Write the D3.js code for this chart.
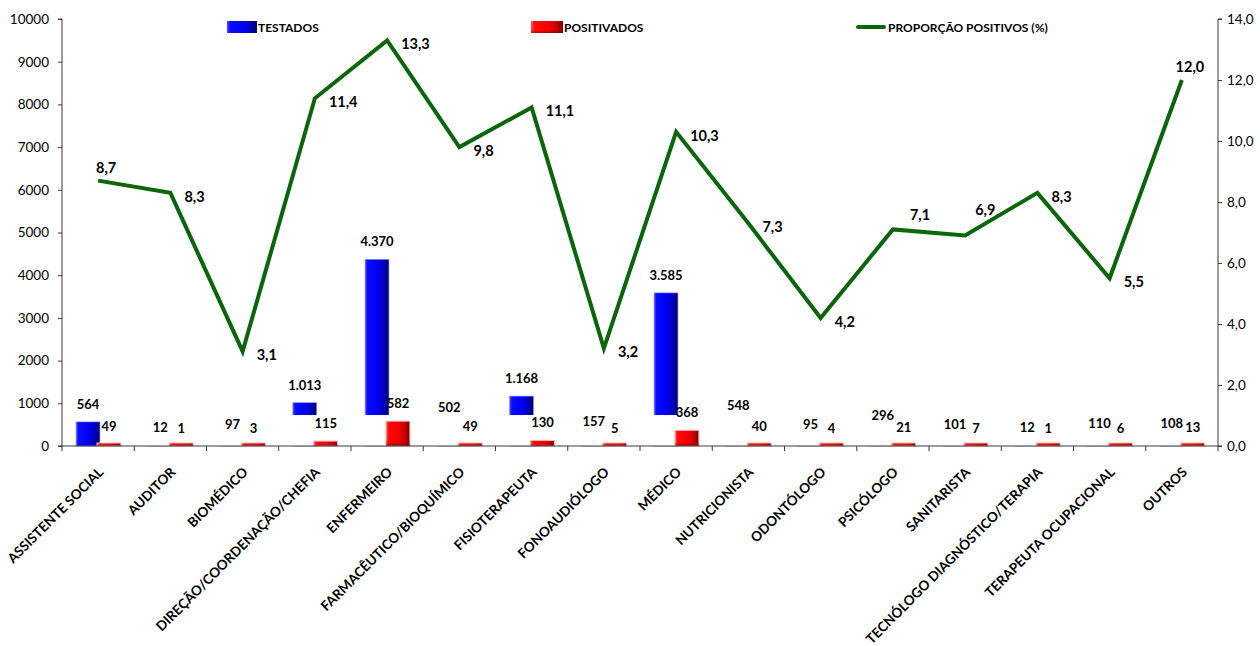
<!DOCTYPE html>
<html>
<head>
<meta charset="utf-8">
<script src="https://cdn.jsdelivr.net/npm/d3@7"></script>
<style>
  html, body { margin: 0; padding: 0; background: #fff; }
  svg { display: block; }
</style>
</head>
<body>
<svg id="chart" width="1260" height="646"></svg>
<script>
const categories = ["ASSISTENTE SOCIAL","AUDITOR","BIOMÉDICO","DIREÇÃO/COORDENAÇÃO/CHEFIA","ENFERMEIRO","FARMACÊUTICO/BIOQUÍMICO","FISIOTERAPEUTA","FONOAUDIÓLOGO","MÉDICO","NUTRICIONISTA","ODONTÓLOGO","PSICÓLOGO","SANITARISTA","TECNÓLOGO DIAGNÓSTICO/TERAPIA","TERAPEUTA OCUPACIONAL","OUTROS"];
const testados   = [564, 12, 97, 1013, 4370, 502, 1168, 157, 3585, 548, 95, 296, 101, 12, 110, 108];
const positivados = [49, 1, 3, 115, 582, 49, 130, 5, 368, 40, 4, 21, 7, 1, 6, 13];
const proporcao  = [8.7, 8.3, 3.1, 11.4, 13.3, 9.8, 11.1, 3.2, 10.3, 7.3, 4.2, 7.1, 6.9, 8.3, 5.5, 12.0];
const leftTicks  = [0,1000,2000,3000,4000,5000,6000,7000,8000,9000,10000];
const rightTicks = [0,2,4,6,8,10,12,14];
const lineLabelPlacement = ["u","r","r","r","r","r","r","r","r","r","r","ur","ur2","r","r","u"];
const legendLabels = ["TESTADOS","POSITIVADOS","PROPORÇÃO POSITIVOS (%)"];

const svg = d3.select("#chart");
const M = {left: 62, right: 1218, top: 19, bottom: 446};
const FONT = "Lato, 'Open Sans', sans-serif";

const x = d3.scaleBand().domain(categories).range([M.left, M.right]).padding(0);
const y = d3.scaleLinear().domain([0, 10000]).range([M.bottom, M.top]);
const y2 = d3.scaleLinear().domain([0, 14]).range([M.bottom, M.top]);
const bw = x.bandwidth();
const barW = bw * 0.33;
const blueOff = bw * 0.195, redOff = bw * 0.485;

const defs = svg.append("defs");
const gb = defs.append("linearGradient").attr("id","gBlue").attr("x1","0").attr("x2","1").attr("y1","0").attr("y2","0");
[["0%","#5050ff"],["10%","#0a0aff"],["55%","#0000f0"],["80%","#0000b8"],["100%","#00006a"]].forEach(s=>gb.append("stop").attr("offset",s[0]).attr("stop-color",s[1]));
const gr = defs.append("linearGradient").attr("id","gRed").attr("x1","0").attr("x2","1").attr("y1","0").attr("y2","0");
[["0%","#ff5050"],["12%","#ff0a0a"],["55%","#f20000"],["82%","#c00000"],["100%","#7a0000"]].forEach(s=>gr.append("stop").attr("offset",s[0]).attr("stop-color",s[1]));
const grv = defs.append("linearGradient").attr("id","gRedV").attr("x1","0").attr("x2","0").attr("y1","0").attr("y2","1");
[["0%","#ff6060","0.0"],["70%","#ff0000","0.0"],["100%","#600000","0.55"]].forEach(s=>grv.append("stop").attr("offset",s[0]).attr("stop-color",s[1]).attr("stop-opacity",s[2]));

// Blue bars (TESTADOS)
const blue = svg.append("g");
blue.selectAll("rect").data(categories).join("rect")
  .attr("x", d => x(d) + blueOff)
  .attr("y", (d,i) => y(testados[i]))
  .attr("width", barW)
  .attr("height", (d,i) => y(0) - y(testados[i]))
  .attr("fill", "url(#gBlue)")
  .attr("stroke", "#8080ff").attr("stroke-width", 0.6);

// in the reference the lower part of the blue bars (after the first category) is hidden
svg.append("rect")
  .attr("x", x(categories[1]))
  .attr("y", y(725))
  .attr("width", M.right - x(categories[1]))
  .attr("height", y(0) - y(725))
  .attr("fill", "#fff");

// Red bars (POSITIVADOS)
const red = svg.append("g");
red.selectAll("rect.r").data(categories).join("rect").attr("class","r")
  .attr("x", d => x(d) + redOff)
  .attr("y", (d,i) => Math.min(y(positivados[i]), y(0) - 3))
  .attr("width", barW)
  .attr("height", (d,i) => Math.max(3, y(0) - y(positivados[i])))
  .attr("fill", "url(#gRed)")
  .attr("stroke", "#ffb4b4").attr("stroke-width", 1);
red.selectAll("rect.s").data(categories).join("rect").attr("class","s")
  .attr("x", d => x(d) + redOff)
  .attr("y", (d,i) => Math.min(y(positivados[i]), y(0) - 3))
  .attr("width", barW)
  .attr("height", (d,i) => Math.max(3, y(0) - y(positivados[i])))
  .attr("fill", "url(#gRedV)");

// Axes
const axisColor = "#3a3a3a";
const left = svg.append("g").attr("transform", `translate(${M.left},0)`)
  .call(d3.axisLeft(y).tickValues(leftTicks).tickSize(4).tickPadding(9).tickFormat(d3.format("d")));
const right = svg.append("g").attr("transform", `translate(${M.right},0)`)
  .call(d3.axisRight(y2).tickValues(rightTicks).tickSize(4).tickPadding(5).tickFormat(d => d.toFixed(1).replace(".", ",")));
[left, right].forEach(g => {
  g.select(".domain").attr("stroke", axisColor).attr("d", g === left ? `M-4,${M.top}H0V${M.bottom}H-4` : `M4,${M.top}H0V${M.bottom}H4`);
  g.selectAll(".tick line").attr("stroke", axisColor);
  g.selectAll(".tick text").attr("fill", "#000").style("font-family", FONT).style("font-size", "13.5px");
});

// bottom axis with ticks at band boundaries
const bottom = svg.append("g");
bottom.append("line").attr("x1", M.left).attr("x2", M.right).attr("y1", y(0)).attr("y2", y(0)).attr("stroke", axisColor);
const bounds = categories.map(c => x(c)).concat([M.right]);
bottom.selectAll("line.t").data(bounds).join("line").attr("class","t")
  .attr("x1", d => d).attr("x2", d => d).attr("y1", y(0)).attr("y2", y(0) + 5).attr("stroke", axisColor);
bottom.selectAll("text").data(categories).join("text")
  .attr("transform", d => `translate(${x(d) + bw/2 + 6},${y(0) + 27}) rotate(-45)`)
  .attr("text-anchor", "end")
  .style("font-family", FONT).style("font-weight", "bold").style("font-size", "13.5px")
  .text(d => d);

// Bar labels
const fmt = v => d3.format(",")(v).replace(/,/g, ".");
svg.append("g").selectAll("text").data(categories).join("text")
  .attr("x", d => x(d) + blueOff + barW/2)
  .attr("y", (d,i) => y(testados[i]) - 13)
  .attr("text-anchor", "middle")
  .style("font-family", FONT).style("font-weight", "bold").style("font-size", "13px")
  .text((d,i) => fmt(testados[i]));
svg.append("g").selectAll("text").data(categories).join("text")
  .attr("x", d => x(d) + redOff + barW/2)
  .attr("y", (d,i) => y(positivados[i]) - 13)
  .attr("text-anchor", "middle")
  .style("font-family", FONT).style("font-weight", "bold").style("font-size", "13px")
  .text((d,i) => fmt(positivados[i]));

// Line (PROPORÇÃO)
const lineColor = "#0b650b";
const line = d3.line().x(d => x(d.c) + bw/2).y(d => y2(d.v));
const pts = categories.map((c,i) => ({c, v: proporcao[i], i}));
svg.append("path").datum(pts).attr("d", line)
  .attr("fill", "none").attr("stroke", lineColor).attr("stroke-width", 4).attr("stroke-linejoin", "miter");

const place = {
  r:   {dx: 14, dy: 9,   anchor: "start"},
  u:   {dx: 8,  dy: -8,  anchor: "middle"},
  ur:  {dx: 17, dy: -9,  anchor: "start"},
  ur2: {dx: 10, dy: -21, anchor: "start"}
};
svg.append("g").selectAll("text").data(pts).join("text")
  .attr("x", d => x(d.c) + bw/2 + place[lineLabelPlacement[d.i]].dx)
  .attr("y", d => y2(d.v) + place[lineLabelPlacement[d.i]].dy)
  .attr("text-anchor", d => place[lineLabelPlacement[d.i]].anchor)
  .style("font-family", FONT).style("font-weight", "bold").style("font-size", "14.5px")
  .text(d => d.v.toFixed(1).replace(".", ","));

// Legend
const lg = svg.append("g").style("font-family", FONT).style("font-weight", "bold").style("font-size", "12px");
lg.append("rect").attr("x", 227).attr("y", 21).attr("width", 30).attr("height", 12).attr("fill", "url(#gBlue)");
lg.append("text").attr("x", 258).attr("y", 32).text(legendLabels[0]);
lg.append("rect").attr("x", 531).attr("y", 21).attr("width", 32).attr("height", 12).attr("fill", "url(#gRed)");
lg.append("rect").attr("x", 531).attr("y", 21).attr("width", 32).attr("height", 12).attr("fill", "url(#gRedV)");
lg.append("text").attr("x", 564).attr("y", 32).text(legendLabels[1]);
lg.append("line").attr("x1", 858).attr("x2", 884).attr("y1", 27).attr("y2", 27).attr("stroke", lineColor).attr("stroke-width", 4).attr("stroke-linecap", "round");
lg.append("text").attr("x", 888).attr("y", 32).text(legendLabels[2]);
</script>
</body>
</html>
